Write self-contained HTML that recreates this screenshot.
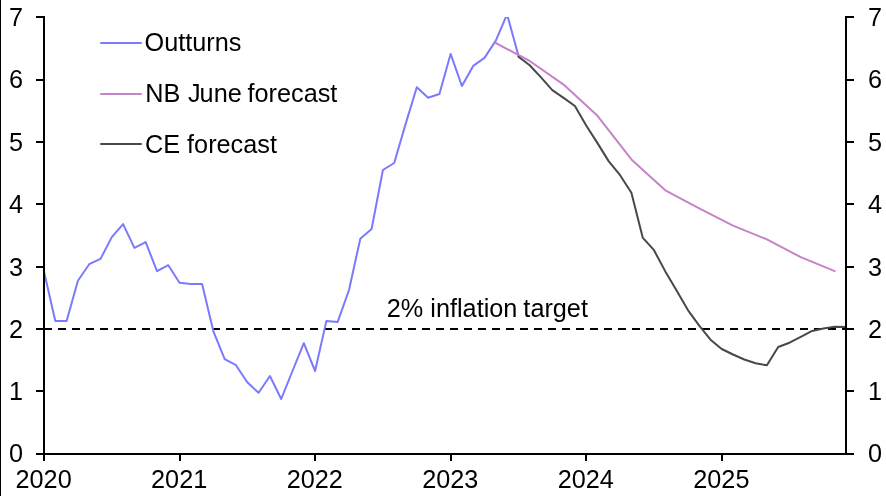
<!DOCTYPE html>
<html><head><meta charset="utf-8"><style>
html,body{margin:0;padding:0;background:#fff;}
body{width:886px;height:496px;overflow:hidden;}
svg{display:block;will-change:transform;}
text{font-family:"Liberation Sans",sans-serif;fill:#000;}
</style></head><body>
<svg width="886" height="496" viewBox="0 0 886 496">
<rect width="886" height="496" fill="#fff"/>
<rect x="0" y="0" width="1" height="496" fill="#000"/>
<defs><clipPath id="c"><rect x="44" y="17" width="803" height="439"/></clipPath></defs>
<g clip-path="url(#c)" fill="none" stroke-width="2" stroke-linejoin="round" stroke-linecap="round">
<line x1="44" y1="329" x2="846" y2="329" stroke="#000" stroke-dasharray="8 6" stroke-linecap="butt"/>
<polyline points="44.0,271.4 55.3,321.0 66.6,321.0 77.9,280.7 89.2,264.2 100.5,258.9 111.8,237.1 123.1,224.1 134.4,247.9 145.7,242.1 157.0,271.2 168.3,265.2 179.5,282.7 190.8,284.0 202.1,284.0 213.4,331.4 224.7,359.2 236.0,365.2 247.3,382.3 258.6,392.8 269.9,376.0 281.2,399.0 292.5,371.0 303.8,343.2 315.1,371.0 326.4,320.9 337.7,321.9 349.0,290.0 360.3,238.7 371.6,229.0 382.9,170.0 394.2,163.0 405.5,124.4 416.8,87.2 428.1,97.7 439.4,94.0 450.6,53.9 461.9,86.0 473.2,65.9 484.5,57.9 495.8,40.6 507.1,14.3 518.4,55.6" stroke="#7a7aff"/>
<polyline points="495.8,43.0 529.7,61.0 563.6,84.6 597.5,115.8 631.4,159.4 665.3,190.3 699.2,208.3 733.0,225.6 766.9,239.4 800.8,257.2 834.7,271.2" stroke="#c683c8"/>
<polyline points="518.4,56.8 529.7,65.3 541.0,77.4 552.3,90.2 563.6,97.9 574.9,106.0 586.2,125.5 597.5,143.1 608.8,161.4 620.1,175.2 631.4,192.8 642.7,237.6 654.0,250.2 665.3,271.4 676.6,290.6 687.9,310.1 699.2,325.7 710.5,339.7 721.7,349.0 733.0,354.5 744.3,359.5 755.6,363.3 766.9,365.3 778.2,347.0 789.5,342.7 800.8,336.9 812.1,330.9 823.4,328.4 834.7,326.7 846.0,326.9" stroke="#484848"/>
</g>
<g fill="#000">
<rect x="43" y="16" width="2" height="439"/>
<rect x="845" y="16" width="2" height="439"/>
<rect x="36" y="453" width="811" height="2"/>
<rect x="36" y="453" width="8" height="2"/><rect x="846" y="453" width="8" height="2"/><rect x="36" y="390" width="8" height="2"/><rect x="846" y="390" width="8" height="2"/><rect x="36" y="328" width="8" height="2"/><rect x="846" y="328" width="8" height="2"/><rect x="36" y="266" width="8" height="2"/><rect x="846" y="266" width="8" height="2"/><rect x="36" y="203" width="8" height="2"/><rect x="846" y="203" width="8" height="2"/><rect x="36" y="141" width="8" height="2"/><rect x="846" y="141" width="8" height="2"/><rect x="36" y="79" width="8" height="2"/><rect x="846" y="79" width="8" height="2"/><rect x="36" y="16" width="8" height="2"/><rect x="846" y="16" width="8" height="2"/><rect x="43" y="454" width="2" height="7"/><rect x="179" y="454" width="2" height="7"/><rect x="314" y="454" width="2" height="7"/><rect x="450" y="454" width="2" height="7"/><rect x="585" y="454" width="2" height="7"/><rect x="721" y="454" width="2" height="7"/>
</g>
<g fill="none" stroke-width="2" stroke-linecap="round">
<line x1="101" y1="43" x2="141" y2="43" stroke="#7a7aff"/>
<line x1="101" y1="94" x2="141" y2="94" stroke="#c683c8"/>
<line x1="101" y1="144" x2="141" y2="144" stroke="#484848"/>
</g>
<text transform="translate(144.60,50.90) scale(1.000,1)" text-anchor="start" font-size="25.25"><tspan font-size="26.20" textLength="19.64" lengthAdjust="spacingAndGlyphs">O</tspan>utturns</text>
<text transform="translate(145.20,101.90) scale(1.000,1)" text-anchor="start" font-size="25.25"><tspan font-size="26.20" textLength="35.08" lengthAdjust="spacingAndGlyphs">NB</tspan> <tspan dx="0.6" font-size="26.20" textLength="12.62" lengthAdjust="spacingAndGlyphs">J</tspan><tspan dx="-0.9">une</tspan> <tspan dx="-1.2">forecast</tspan></text>
<text transform="translate(145.00,152.60) scale(1.000,1)" text-anchor="start" font-size="25.25"><tspan font-size="26.20" textLength="35.08" lengthAdjust="spacingAndGlyphs">CE</tspan> <tspan dx="0">forecast</tspan></text>
<text transform="translate(386.80,316.80) scale(1.000,1)" text-anchor="start" font-size="25.25">2% inflation <tspan dx="-1">target</tspan></text>
<text transform="translate(9.00,462.40) scale(0.990,1)" text-anchor="start" font-size="25.50">0</text><text transform="translate(868.00,462.40) scale(0.990,1)" text-anchor="start" font-size="25.50">0</text><text transform="translate(9.00,400.37) scale(0.990,1)" text-anchor="start" font-size="25.50">1</text><text transform="translate(868.00,400.37) scale(0.990,1)" text-anchor="start" font-size="25.50">1</text><text transform="translate(9.00,337.94) scale(0.990,1)" text-anchor="start" font-size="25.50">2</text><text transform="translate(868.00,337.94) scale(0.990,1)" text-anchor="start" font-size="25.50">2</text><text transform="translate(9.00,275.51) scale(0.990,1)" text-anchor="start" font-size="25.50">3</text><text transform="translate(868.00,275.51) scale(0.990,1)" text-anchor="start" font-size="25.50">3</text><text transform="translate(9.00,213.09) scale(0.990,1)" text-anchor="start" font-size="25.50">4</text><text transform="translate(868.00,213.09) scale(0.990,1)" text-anchor="start" font-size="25.50">4</text><text transform="translate(9.00,150.66) scale(0.990,1)" text-anchor="start" font-size="25.50">5</text><text transform="translate(868.00,150.66) scale(0.990,1)" text-anchor="start" font-size="25.50">5</text><text transform="translate(9.00,88.23) scale(0.990,1)" text-anchor="start" font-size="25.50">6</text><text transform="translate(868.00,88.23) scale(0.990,1)" text-anchor="start" font-size="25.50">6</text><text transform="translate(9.00,25.80) scale(0.990,1)" text-anchor="start" font-size="25.50">7</text><text transform="translate(868.00,25.80) scale(0.990,1)" text-anchor="start" font-size="25.50">7</text><text transform="translate(43.60,488.00) scale(0.990,1)" text-anchor="middle" font-size="25.50">2020</text><text transform="translate(179.15,488.00) scale(0.990,1)" text-anchor="middle" font-size="25.50">2021</text><text transform="translate(314.70,488.00) scale(0.990,1)" text-anchor="middle" font-size="25.50">2022</text><text transform="translate(450.25,488.00) scale(0.990,1)" text-anchor="middle" font-size="25.50">2023</text><text transform="translate(585.80,488.00) scale(0.990,1)" text-anchor="middle" font-size="25.50">2024</text><text transform="translate(721.35,488.00) scale(0.990,1)" text-anchor="middle" font-size="25.50">2025</text>
</svg>
</body></html>
